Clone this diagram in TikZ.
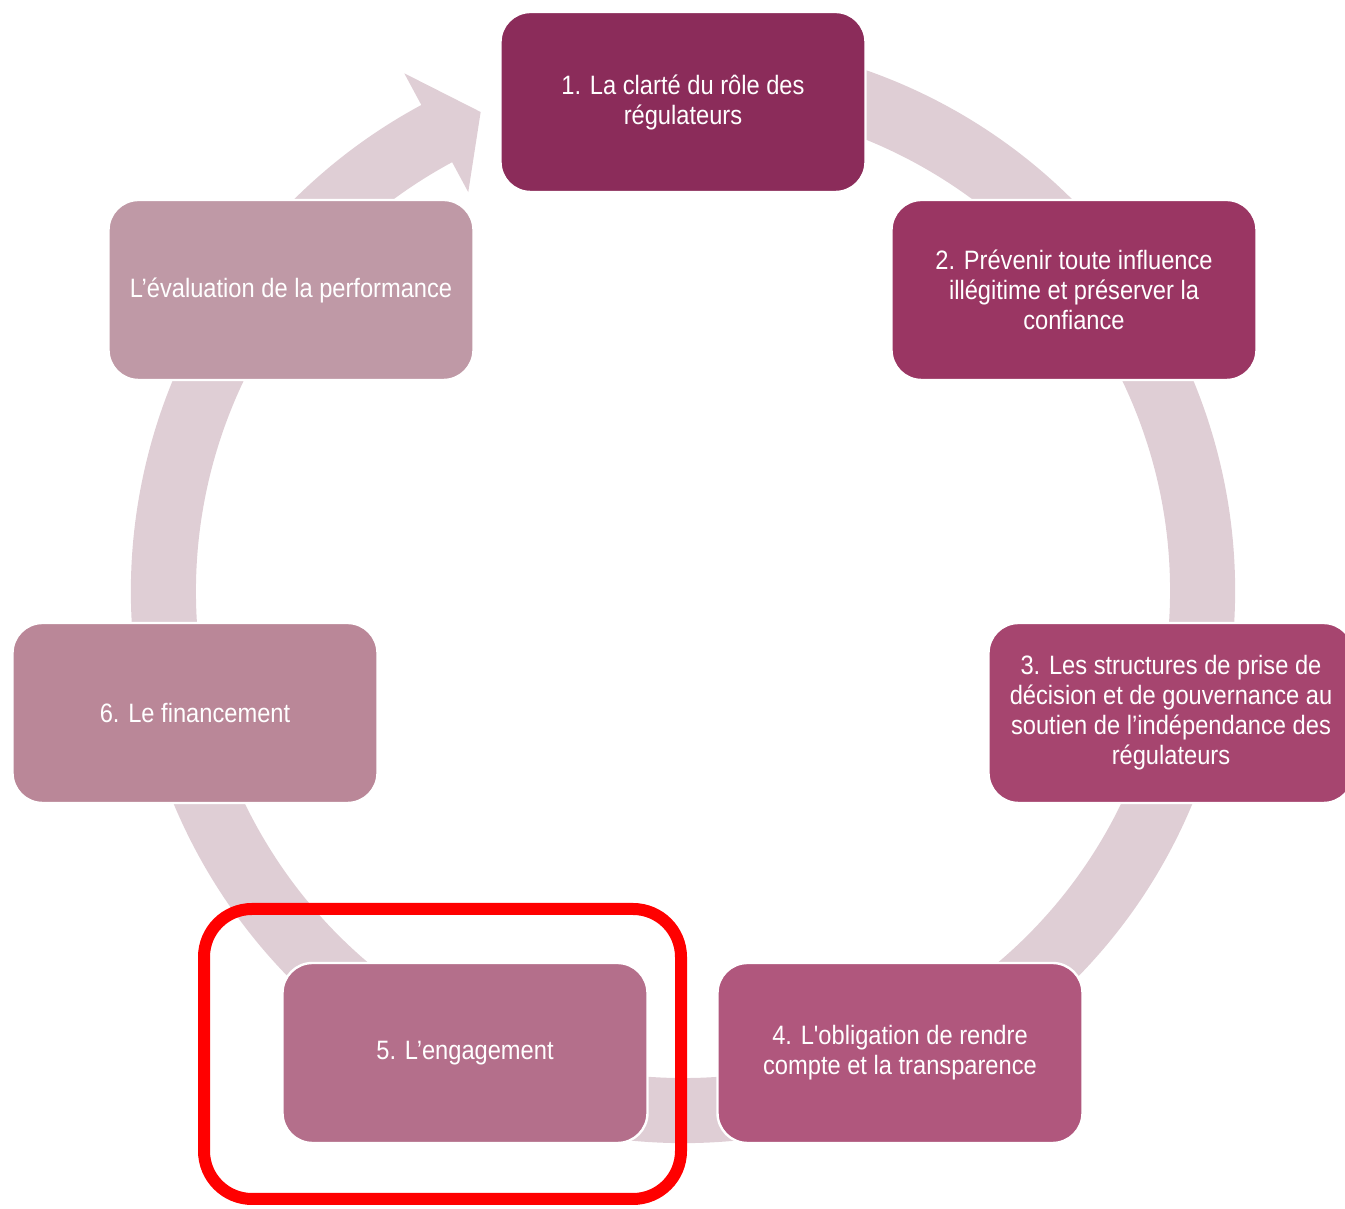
\documentclass[tikz,border=0pt]{standalone}
\usepackage{fontspec}
\setmainfont{Liberation Sans}[FakeStretch=0.89,Ligatures=TeXOff]
\definecolor{ringc}{HTML}{DFCED5}
\definecolor{cA}{HTML}{8B2C5A}
\definecolor{cB}{HTML}{9A3663}
\definecolor{cC}{HTML}{A6456F}
\definecolor{cD}{HTML}{B0577D}
\definecolor{cE}{HTML}{B46F8B}
\definecolor{cF}{HTML}{BA8798}
\definecolor{cG}{HTML}{BF99A6}
\definecolor{hl}{HTML}{FF0000}
\begin{document}
\begin{tikzpicture}[x=0.5pt,y=0.5pt,
  box/.style={rounded corners=15pt, minimum width=182.5pt, minimum height=90pt,
    draw=white, line width=1.2pt, text=white, align=center, inner sep=0pt,
    font=\fontsize{13.3}{15}\selectfont},
  highlight/.style={draw=hl, line width=6pt, rounded corners=24pt}]
\useasboundingbox (0,0) rectangle (1345,1209);
% ring arrow
\begin{scope}[shift={(683,618)}]
\fill[ringc] (75:552) arc[start angle=75, end angle=-241.7, radius=276pt]
  -- (-241.7:588) -- (-247.1:520) -- (-241.7:453) -- (-241.7:487)
  arc[start angle=-241.7, end angle=75, radius=243.5pt] -- cycle;
\end{scope}
% boxes
\node[box, fill=cA] (b1) at (683,1107) {1. La clarté du rôle des\\régulateurs};
\node[box, fill=cB] (b2) at (1074,919) {2. Prévenir toute influence\\illégitime et préserver la\\confiance};
\node[box, fill=cC] (b3) at (1171,496) {3. Les structures de prise de\\décision et de gouvernance au\\soutien de l’indépendance des\\régulateurs};
\node[box, fill=cD] (b4) at (900,156) {4. L'obligation de rendre\\compte et la transparence};
\node[box, fill=cE] (b5) at (465,156) {5. L’engagement};
\node[box, fill=cF] (b6) at (195,496) {6. Le financement};
\node[box, fill=cG] (b7) at (291,919) {L’évaluation de la performance};
% highlight
\coordinate (hA) at (204,10);
\coordinate (hB) at (681,300);
\draw[highlight] (hA) rectangle (hB);
\end{tikzpicture}
\end{document}
